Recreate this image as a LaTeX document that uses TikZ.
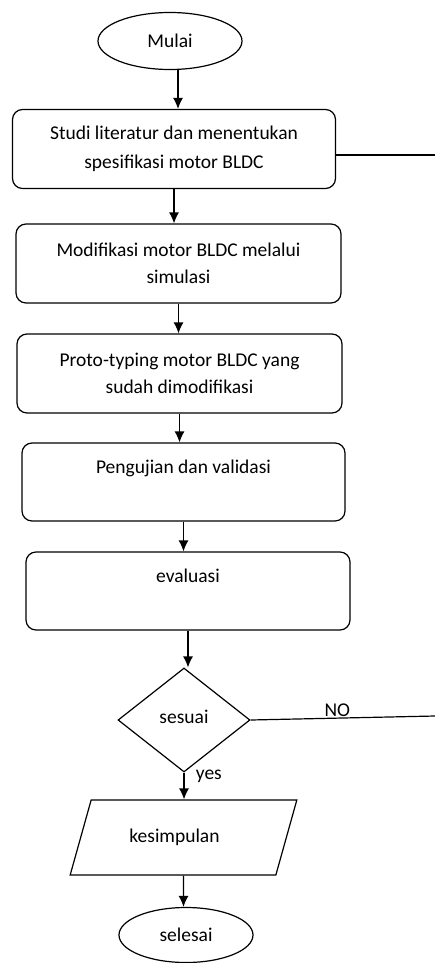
\documentclass[tikz,border=0pt]{standalone}
\usepackage{fontspec}
\setmainfont{Carlito}
\usetikzlibrary{shapes.geometric, arrows.meta}

\def\bW{323pt}
\def\bH{79pt}

\begin{document}
\begin{tikzpicture}[x=1pt, y=-1pt, line width=1.2pt,
    font=\fontsize{19.5}{26.5}\selectfont,
    panah/.style={-{Latex[length=11pt, width=10pt]}},
    prosesbox/.style={draw, rounded corners=10pt, align=center, minimum width=\bW, minimum height=\bH, inner sep=2pt},
    terminal/.style={draw, ellipse, inner sep=0pt},
    keputusan/.style={draw, diamond, minimum width=132pt, minimum height=104pt, inner sep=0pt},
    keluaran/.style={draw, trapezium, trapezium left angle=55, trapezium right angle=125, trapezium stretches=true, minimum width=227pt, minimum height=75pt, inner sep=0pt}]
    \useasboundingbox (0,0) rectangle (435,963);

    %%   (label)  (x, y)     {\text}
    \coordinate (R1)  at (435, 155);
    \coordinate (RNO) at (435, 716);

    \node[terminal, minimum width=144pt, minimum height=57pt] (mulai) at (170, 41) {Mulai};
    \node[prosesbox] (studi) at (174, 149) {Studi literatur dan menentukan\\[2pt]spesifikasi motor BLDC};
    \node[prosesbox, minimum width=325pt] (modif) at (178.5, 263.5) {Modifikasi motor BLDC melalui\\simulasi};
    \node[prosesbox, minimum width=325pt] (proto) at (179.5, 373.5) {Proto-typing motor BLDC yang\\sudah dimodifikasi};
    \node[prosesbox, minimum height=78pt] (uji) at (183.5, 482) {Pengujian dan validasi\\[4pt]\mbox{}};
    \node[prosesbox, minimum width=324pt, minimum height=78pt] (eval) at (188, 591) {evaluasi\\[4pt]\mbox{}};
    \node[keputusan] (sesuai) at (184, 720) {\raisebox{7pt}{sesuai}};
    \node[keluaran] (simpul) at (183.5, 837.5) {\raisebox{4pt}{kesimpulan}\hspace*{18pt}};
    \node[terminal, minimum width=134pt, minimum height=55pt] (selesai) at (186, 935) {selesai};

    \draw[panah] ([xshift=8pt]mulai.south) -- ([xshift=8pt]mulai.south |- studi.north);
    \draw[panah] (studi) -- (studi |- modif.north);
    \draw[panah] (modif) -- (modif |- proto.north);
    \draw[panah] (proto) -- (proto |- uji.north);
    \draw[panah] (uji) -- (uji |- eval.north);
    \draw[panah] (eval) -- (eval |- sesuai.north);
    \draw[panah] (sesuai) -- node[right, pos=0.15, xshift=8pt] {yes} (sesuai |- simpul.north);
    \draw[panah] (simpul) -- (simpul |- selesai.north);

    \draw (studi.east |- R1) -- (R1);
    \draw (sesuai.east) -- node[above, pos=0.47, inner sep=1pt] {NO} (RNO);

  \end{tikzpicture}
\end{document}
